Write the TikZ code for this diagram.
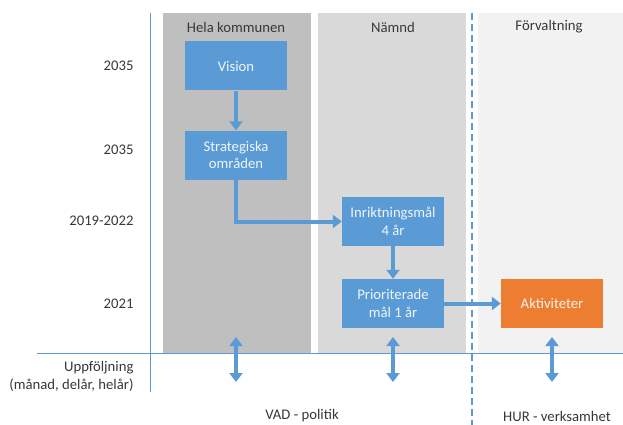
\documentclass[tikz,border=0pt]{standalone}
\usepackage{fontspec}
\setmainfont{Carlito}
\usetikzlibrary{arrows.meta}
\definecolor{obl}{HTML}{5B9BD5}
\definecolor{oor}{HTML}{ED7D31}
\definecolor{gA}{HTML}{BFBFBF}
\definecolor{gB}{HTML}{D9D9D9}
\definecolor{gC}{HTML}{F2F2F2}
\definecolor{txt}{HTML}{383838}
\tikzset{
  box/.style={fill=obl, text=white!90!obl, minimum width=102pt, minimum height=49pt, align=center, inner sep=2pt, font=\fontsize{14.7}{17.5}\selectfont},
  obox/.style={box, fill=oor, text=white!90!oor},
  flow/.style={draw=obl, line width=4pt, -{Triangle[width=13pt,length=9pt]}},
  both/.style={draw=obl, line width=4pt, {Triangle[width=13pt,length=9pt]}-{Triangle[width=13pt,length=9pt]}},
  lab/.style={text=txt, font=\fontsize{14.7}{17}\selectfont},
  ylab/.style={lab, anchor=east, align=right},
  axis/.style={draw=obl, line width=1pt},
}
\begin{document}
\begin{tikzpicture}[x=1pt,y=-1pt]
\useasboundingbox (0,0) rectangle (623,425);
\fill[white] (0,0) rectangle (623,425);
% columns
\fill[gA] (163,13) rectangle (311,353);
\fill[gB] (318,13) rectangle (466,353);
\fill[gC] (478,13) rectangle (623,353);
% headers
\node[lab] (h1) at (236,27) {Hela kommunen};
\node[lab] (h2) at (393,27) {Nämnd};
\node[lab] (h3) at (549,27) {Förvaltning};
% axes
\coordinate (vt) at (150,13);
\coordinate (vb) at (150,392);
\coordinate (hl) at (37,353);
\coordinate (hr) at (623,353);
\coordinate (dt) at (472,13);
\coordinate (db) at (472,425);
\draw[axis] (vt) -- (vb);
\draw[axis] (hl) -- (hr);
\draw[draw=obl, line width=1.2pt, dash pattern=on 7pt off 4pt] (dt) -- (db);
% year labels
\node[ylab] (y1) at (137,66) {2035};
\node[ylab] (y2) at (137,150) {2035};
\node[ylab] (y3) at (137,221) {2019-2022};
\node[ylab] (y4) at (137,304) {2021};
\node[ylab, font=\fontsize{14.7}{18}\selectfont] (y5) at (137,376) {Uppföljning\\(månad, delår, helår)};
% boxes
\node[box] (vis) at (236,66) {Vision};
\node[box] (str) at (236,155) {Strategiska\\områden};
\node[box] (inr) at (393,221.5) {Inriktningsmål\\4 år};
\node[box] (pri) at (393,303.5) {Prioriterade\\mål 1 år};
\node[obox] (akt) at (552,303.5) {Aktiviteter};
% flows
\draw[flow] (vis) -- (str);
\draw[flow] (str.south) |- (inr.west);
\draw[flow] (inr) -- (pri);
\draw[flow] (pri) -- (akt);
% follow-up arrows
\coordinate (a1t) at (236,337);
\coordinate (a1b) at (236,382);
\coordinate (a2t) at (393,337);
\coordinate (a2b) at (393,382);
\coordinate (a3t) at (552,337);
\coordinate (a3b) at (552,382);
\draw[both] (a1t) -- (a1b);
\draw[both] (a2t) -- (a2b);
\draw[both] (a3t) -- (a3b);
% bottom labels
\node[lab] (vad) at (302,416) {VAD - politik};
\node[lab] (hur) at (557,416) {HUR - verksamhet};
\end{tikzpicture}
\end{document}
